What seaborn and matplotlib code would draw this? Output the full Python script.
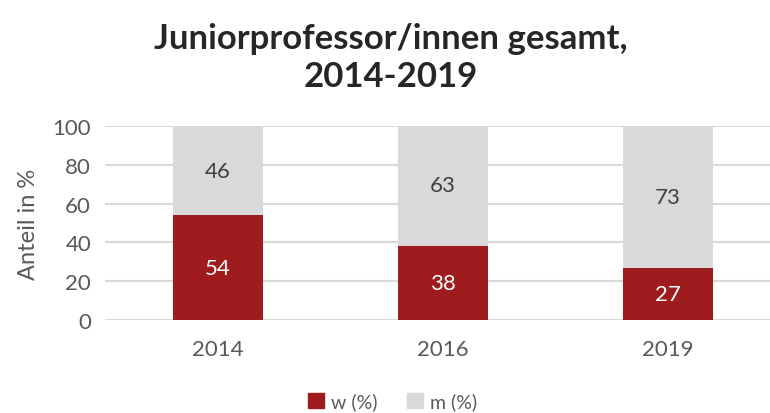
import pandas as pd
import matplotlib.pyplot as plt
import seaborn as sns
from matplotlib.patches import Patch

years = ['2014', '2016', '2019']
w_pct = [54, 38, 27]
m_pct = [46, 63, 73]

red = '#9E1B1E'
grey = '#D9D9D9'
txt = '#595959'

sns.set_style('white')
plt.rcParams['font.family'] = ['Lato', 'DejaVu Sans']

df = pd.DataFrame({'Jahr': years, 'w': w_pct, 'm': m_pct})
df['total'] = df['w'] + df['m']

fig = plt.figure(figsize=(7.7, 4.14), dpi=100)
ax = fig.add_axes([105 / 770, 0.2246, 675 / 770, 0.4686])

sns.barplot(x='Jahr', y='total', data=df, color=grey, width=0.4, saturation=1,
            linewidth=0, ax=ax, zorder=2)
sns.barplot(x='Jahr', y='w', data=df, color=red, width=0.4, saturation=1,
            linewidth=0, ax=ax, zorder=3)

for i, (w, m) in enumerate(zip(w_pct, m_pct)):
    ax.text(i, w / 2, str(w), ha='center', va='center', color='white', fontsize=16, zorder=4)
    ax.text(i, w + m / 2, str(m), ha='center', va='center', color='#404040', fontsize=16, zorder=4)

ax.set_ylim(0, 100)
ax.set_xlim(-0.5, 2.5)
ax.set_yticks(range(0, 101, 20))
ax.yaxis.grid(True, color=grey, linewidth=1.5, zorder=0)
ax.set_axisbelow(True)
for s in ax.spines.values():
    s.set_visible(False)
ax.tick_params(axis='y', length=0, labelsize=16, colors=txt, pad=10)
ax.tick_params(axis='x', length=0, labelsize=16, colors=txt, pad=14)
ax.set_xlabel('')
ax.set_ylabel('Anteil in %', fontsize=17, color=txt, labelpad=10)

fig.suptitle('Juniorprofessor/innen gesamt,\n2014-2019', fontsize=25, fontweight='bold',
             y=0.945, x=0.507, linespacing=1.25)

handles = [Patch(color=red, label='w (%)'), Patch(color=grey, label='m (%)')]
leg = fig.legend(handles=handles, loc='lower center', ncol=2, frameon=False, fontsize=14,
                 bbox_to_anchor=(0.51, -0.035), handlelength=0.8, handleheight=0.8,
                 handletextpad=0.4, columnspacing=1.5)
for t in leg.get_texts():
    t.set_color(txt)

fig.savefig('out.png', dpi=100)
